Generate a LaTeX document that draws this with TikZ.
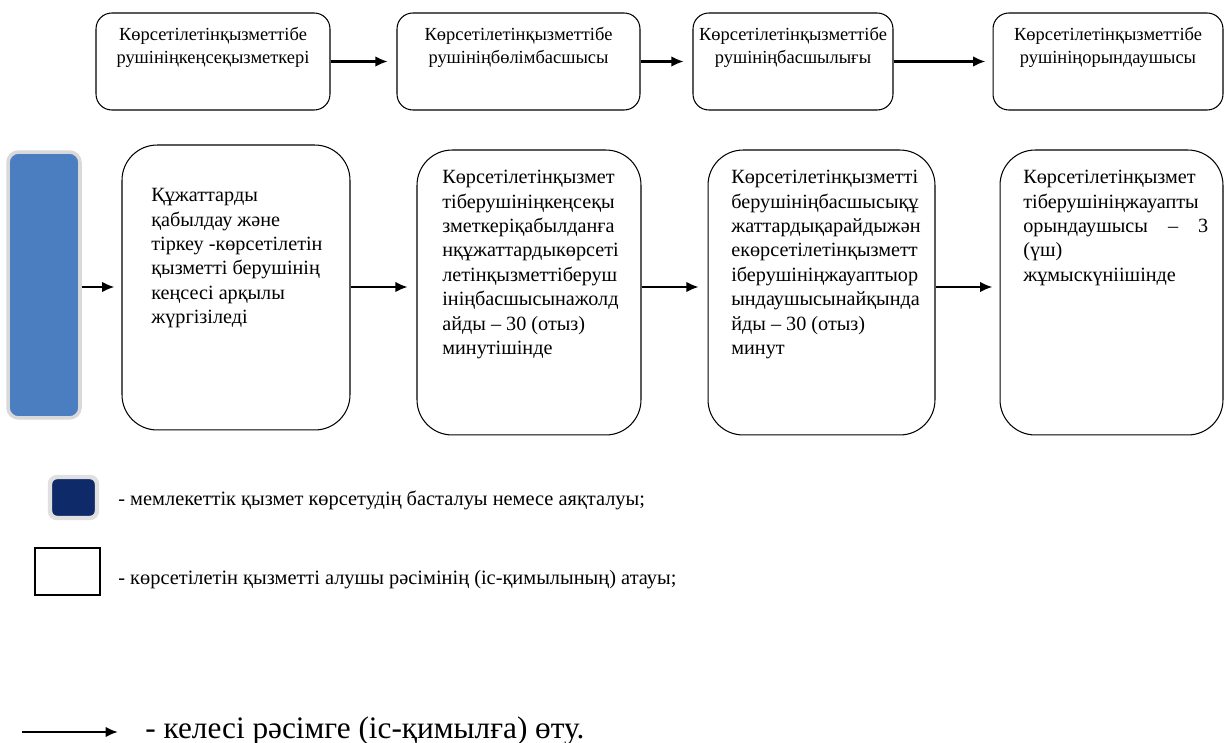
\documentclass[tikz,border=0pt]{standalone}
\usepackage{fontspec}
\setmainfont{Liberation Serif}
\usetikzlibrary{arrows.meta}
\definecolor{startblue}{RGB}{74,126,193}
\definecolor{legendnavy}{RGB}{14,42,104}
\tikzset{
  topbox/.style={draw, rounded corners=9pt, line width=0.6pt, minimum height=1.94cm, inner sep=0pt},
  stepbox/.style={draw, rounded corners=20pt, line width=0.6pt, minimum height=5.7cm, inner sep=0pt},
  toptext/.style={anchor=north, align=center, inner sep=0pt, font=\fontsize{10.5}{13.3}\selectfont},
  steptext/.style={anchor=north west, align=left, inner sep=0pt, font=\fontsize{11.5}{13.9}\selectfont},
  legendtext/.style={anchor=west, inner sep=0pt, font=\fontsize{11.6}{14}\selectfont},
  arr/.style={-{Latex[length=7pt,width=6pt]}, line width=1.2pt},
}

\begin{document}
\begin{tikzpicture}[x=0.02cm, y=-0.02cm]
\useasboundingbox (0,0) rectangle (1225,743);

% top row
\node[topbox, minimum width=4.68cm] (t1) at (213,61.5) {};
\node[topbox, minimum width=4.86cm] (t2) at (518.5,61.5) {};
\node[topbox, minimum width=4.0cm] (t3) at (793,61.5) {};
\node[topbox, minimum width=4.6cm] (t4) at (1108,61.5) {};

\node[toptext] (t1txt) at (213,27) {Көрсетілетінқызметтібе\\рушініңкеңсеқызметкері};
\node[toptext] (t2txt) at (518.5,27) {Көрсетілетінқызметтібе\\рушініңбөлімбасшысы};
\node[toptext] (t3txt) at (793,27) {Көрсетілетінқызметтібе\\рушініңбасшылығы};
\node[toptext] (t4txt) at (1108,27) {Көрсетілетінқызметтібе\\рушініңорындаушысы};

% bottom row
\node[draw=black!15, line width=2pt, fill=startblue, rounded corners=6pt,
      minimum width=1.44cm, minimum height=5.32cm] (bar) at (44,285) {};
\node[stepbox, minimum width=4.56cm] (s1) at (236,287.5) {};
\node[stepbox, minimum width=4.48cm] (s2) at (529,292.5) {};
\node[stepbox, minimum width=4.54cm] (s3) at (821.5,292.5) {};
\node[stepbox, minimum width=4.46cm] (s4) at (1111.5,292.5) {};

\node[steptext] (s1txt) at (151,188) {Құжаттарды\\қабылдау және\\тіркеу -көрсетілетін\\қызметті берушінің\\кеңсесі арқылы\\жүргізіледі};
\node[steptext] (s2txt) at (442,170) {Көрсетілетінқызмет\\тіберушініңкеңсеқы\\зметкеріқабылданға\\нқұжаттардыкөрсеті\\летінқызметтіберуш\\ініңбасшысынажолд\\айды – 30 (отыз)\\минутішінде};
\node[steptext] (s3txt) at (731,170) {Көрсетілетінқызметті\\берушініңбасшысықұ\\жаттардықарайдыжән\\екөрсетілетінқызметт\\іберушініңжауаптыор\\ындаушысынайқында\\йды – 30 (отыз)\\минут};
\node[steptext, text width=3.7cm] (s4txt) at (1023,170) {Көрсетілетінқызмет\\тіберушініңжауапты\\орындаушысы\hfill–\hfill3\\(үш)\\жұмыскүніішінде};

% arrows
\coordinate (row) at (0,287);
\draw[arr] (t1.east) -- ([xshift=-5pt]t2.west);
\draw[arr] (t2.east) -- ([xshift=-5pt]t3.west);
\draw[arr] (t3.east) -- ([xshift=-4pt]t4.west);

\draw[arr] (bar.east |- row) -- ([xshift=-4pt]s1.west |- row);
\draw[arr] (s1.east |- row) -- ([xshift=-5pt]s2.west |- row);
\draw[arr] (s2.east |- row) -- ([xshift=-5pt]s3.west |- row);
\draw[arr] (s3.east |- row) -- ([xshift=-4pt]s4.west |- row);

% legend
\node[draw=black!12, line width=2.5pt, fill=legendnavy, rounded corners=4pt,
      minimum width=0.94cm, minimum height=0.82cm] (keyend) at (73.5,497.5) {};
\node[draw, line width=0.6pt, minimum width=1.3cm, minimum height=0.94cm] (keystep) at (67.5,571.5) {};
\coordinate (keyfrom) at (22,732);
\coordinate (keyto) at (118,732);
\draw[arr, line width=1.7pt] (keyfrom) -- (keyto);

\node[legendtext] (keyendtxt) at (118,500) {- мемлекеттік қызмет көрсетудің басталуы немесе аяқталуы;};
\node[legendtext] (keysteptxt) at (118,580) {- көрсетілетін қызметті алушы рәсімінің (іс-қимылының) атауы;};
\node[legendtext, font=\fontsize{17.8}{20}\selectfont] (keyarrtxt) at (145,731) {- келесі рәсімге (іс-қимылға) өту.};
\end{tikzpicture}
\end{document}
